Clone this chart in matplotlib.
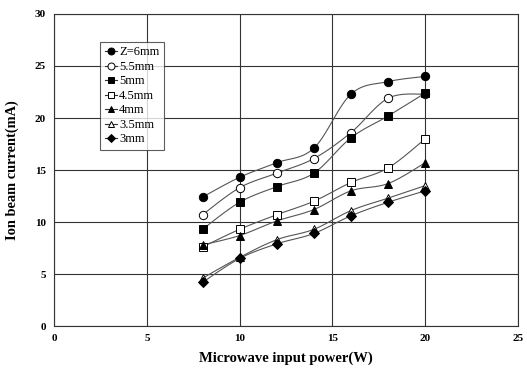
import numpy as np
import matplotlib
matplotlib.use("Agg")
import matplotlib.pyplot as plt

power = [8, 10, 12, 14, 16, 18, 20]
labels = ["Z=6mm", "5.5mm", "5mm", "4.5mm", "4mm", "3.5mm", "3mm"]
z6 = [12.4, 14.3, 15.7, 17.1, 22.3, 23.5, 24.0]
z55 = [10.7, 13.3, 14.7, 16.1, 18.6, 21.9, 22.3]
z5 = [9.3, 11.9, 13.4, 14.7, 18.1, 20.2, 22.4]
z45 = [7.6, 9.3, 10.7, 12.0, 13.8, 15.2, 18.0]
z4 = [7.8, 8.7, 10.1, 11.2, 13.0, 13.7, 15.7]
z35 = [4.6, 6.6, 8.3, 9.3, 11.1, 12.3, 13.5]
z3 = [4.2, 6.5, 7.9, 8.9, 10.6, 11.9, 13.0]
series = [z6, z55, z5, z45, z4, z35, z3]
markers = ["o", "o", "s", "s", "^", "^", "D"]
filled = [True, False, True, False, True, False, True]

plt.rcParams['font.family'] = ['Liberation Serif', 'DejaVu Serif']

def smooth(x, y, n=20):
    x = np.asarray(x, float); y = np.asarray(y, float)
    P = np.column_stack([x, y])
    out = []
    for i in range(len(P) - 1):
        p0 = P[i - 1] if i > 0 else P[i]
        p1 = P[i]; p2 = P[i + 1]
        p3 = P[i + 2] if i + 2 < len(P) else P[i + 1]
        c1 = p1 + (p2 - p0) / 6
        c2 = p2 - (p3 - p1) / 6
        t = np.linspace(0, 1, n)[:, None]
        seg = (1 - t) ** 3 * p1 + 3 * (1 - t) ** 2 * t * c1 + 3 * (1 - t) * t ** 2 * c2 + t ** 3 * p2
        out.append(seg if i == 0 else seg[1:])
    s = np.vstack(out)
    return s[:, 0], s[:, 1]

fig = plt.figure(figsize=(5.27, 3.68), dpi=100)
ax = fig.add_axes([0.1025, 0.114, 0.8805, 0.848])

handles = []
for ys, lab, m, f in zip(series, labels, markers, filled):
    sx, sy = smooth(power, ys)
    ax.plot(sx, sy, color='#555555', lw=0.8, zorder=3)
    ms = 6 if m != "D" else 4.6
    ax.plot(power, ys, linestyle='none', marker=m, ms=ms,
            mfc='black' if f else 'white', mec='black', mew=0.7, zorder=4)
    lms = 5 if m != "D" else 4
    h, = ax.plot([], [], color='#333333', lw=0.8, marker=m, ms=lms,
                 mfc='black' if f else 'white', mec='black', mew=0.7, label=lab)
    handles.append(h)

ax.set_xlim(0, 25)
ax.set_ylim(0, 30)
ax.set_xticks([0, 5, 10, 15, 20, 25])
ax.set_yticks([0, 5, 10, 15, 20, 25, 30])
ax.grid(True, color='#333333', lw=0.8)
ax.set_axisbelow(True)
for sp in ax.spines.values():
    sp.set_color('#333333')
    sp.set_linewidth(0.8)
ax.tick_params(length=0, labelsize=8, pad=6)
for t in ax.get_xticklabels() + ax.get_yticklabels():
    t.set_fontweight('bold')
ax.set_xlabel('Microwave input power(W)', fontsize=10.5, fontweight='bold', labelpad=6)
ax.set_ylabel('Ion beam current(mA)', fontsize=10.4, fontweight='bold', labelpad=11)

leg = ax.legend(handles=handles, loc='upper left', bbox_to_anchor=(0.1, 0.91),
                fontsize=9, frameon=True, fancybox=False, edgecolor='#333333',
                handlelength=1.0, handletextpad=0.15, labelspacing=0.2,
                borderpad=0.35, borderaxespad=0)
leg.get_frame().set_linewidth(0.8)

fig.savefig('out.png', dpi=100)
